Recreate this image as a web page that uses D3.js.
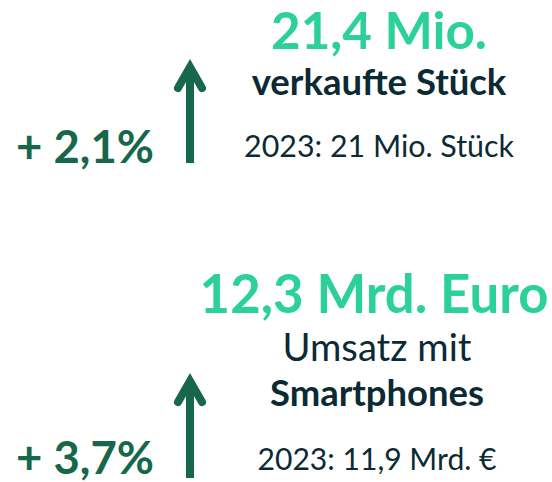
<!DOCTYPE html>
<html><head><meta charset="utf-8">
<script src="https://cdn.jsdelivr.net/npm/d3@7"></script>
<style>body{margin:0;background:#fff}svg{display:block}</style>
</head><body>
<script>
// Data
const headline = ["21,4 Mio.", "12,3 Mrd. Euro"];
const labelLines = [["verkaufte Stück"], ["Umsatz mit", "Smartphones"]];
const labelBold = [[true], [false, true]];
const previous = ["2023: 21 Mio. Stück", "2023: 11,9 Mrd. €"];
const change = [2.1, 3.7];

const W = 552, H = 482;
const font = "Lato, 'Open Sans', sans-serif";
const cLight = "#2bd196", cDark = "#17684b", cText = "#0b2a33";

const svg = d3.select("body").append("svg").attr("width", W).attr("height", H);

const fmt = v => "+ " + d3.format(".1f")(v).replace(".", ",") + "%";

// layout (target ink widths & baselines)
const layout = [
  {headCx: 379, headW: 216, headY: 49, cx: 379, lineW: [255], lineY: [95], prevW: 270, prevY: 157, chgW: 138, chgY: 163, arrowTop: 59, arrowBot: 163},
  {headCx: 374, headW: 349, headY: 313, cx: 377, lineW: [189, 214], lineY: [361, 406], prevW: 239, prevY: 470, chgW: 138, chgY: 474, arrowTop: 373, arrowBot: 478}
];

function fit(sel, w) {
  sel.attr("font-size", 100);
  const len = sel.node().getBBox().width;
  sel.attr("font-size", 100 * w / len);
  return sel;
}

layout.forEach((L, k) => {
  const g = svg.append("g");
  fit(g.append("text").attr("x", L.headCx).attr("y", L.headY).attr("text-anchor", "middle")
    .attr("font-family", font).attr("font-weight", 700).attr("fill", cLight).text(headline[k]), L.headW);
  labelLines[k].forEach((t, i) => {
    fit(g.append("text").attr("x", L.cx).attr("y", L.lineY[i]).attr("text-anchor", "middle")
      .attr("font-family", font).attr("font-weight", labelBold[k][i] ? 700 : 400).attr("fill", cText).text(t), L.lineW[i]);
  });
  fit(g.append("text").attr("x", L.cx).attr("y", L.prevY).attr("text-anchor", "middle")
    .attr("font-family", font).attr("font-weight", 400).attr("fill", cText).text(previous[k]), L.prevW);
  fit(g.append("text").attr("x", 16).attr("y", L.chgY)
    .attr("font-family", font).attr("font-weight", 700).attr("fill", cDark).text(fmt(change[k])), L.chgW);
  const ax = 190;
  g.append("line").attr("x1", ax).attr("x2", ax).attr("y1", L.arrowTop + 10).attr("y2", L.arrowBot)
    .attr("stroke", cDark).attr("stroke-width", 8);
  g.append("path").attr("d", `M${ax-12},${L.arrowTop+29} L${ax},${L.arrowTop+8} L${ax+12},${L.arrowTop+29}`)
    .attr("fill", "none").attr("stroke", cDark).attr("stroke-width", 8).attr("stroke-linecap", "round").attr("stroke-linejoin", "miter");
});
</script>
</body></html>
